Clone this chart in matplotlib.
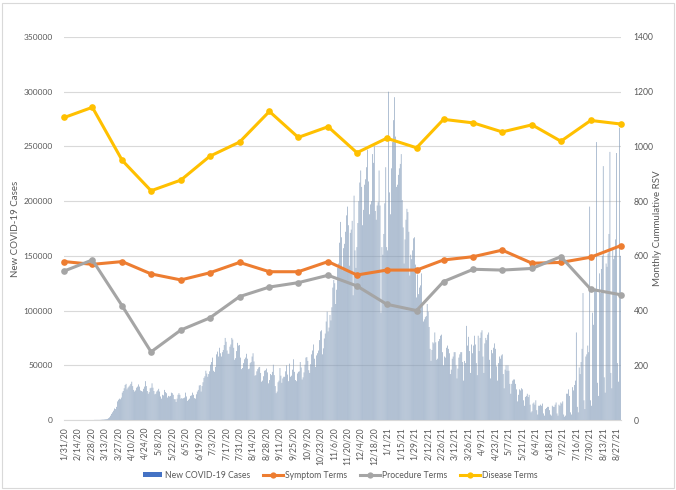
import numpy as np
import pandas as pd
import matplotlib
matplotlib.use("Agg")
import matplotlib.pyplot as plt
from matplotlib.lines import Line2D
from matplotlib.patches import Patch, Rectangle

plt.rcParams['font.family'] = ['Lato', 'DejaVu Sans']

# ---------------- data ----------------
start_date = "2020-01-31"

# daily new COVID-19 cases (thousands), one row per week (Fri..Thu), 2020
cases_2020_k = [
    0, 0, 0, 0, 0, 0, 0,
    0, 0, 0, 0, 0, 0, 0,
    0, 0, 0, 0, 0, 0, 0,
    0, 0, 0, 0, 0, 0, 0,
    0, 0, 0, 0.1, 0.1, 0.1, 0.1,
    0.1, 0.1, 0.1, 0.2, 0.3, 0.4, 0.4,
    0.6, 0.7, 0.8, 1.0, 1.7, 2.5, 3.9,
    5.6, 7.0, 8.5, 10.5, 10.0, 12.0, 17.0,
    18.5, 19.5, 19.0, 20.5, 25.0, 26.5, 29.0,
    32.0, 33.0, 28.0, 29.5, 30.5, 31.5, 33.0,
    35.0, 31.0, 27.5, 26.0, 27.0, 29.5, 30.5,
    32.5, 30.5, 27.0, 26.5, 26.0, 28.5, 30.5,
    35.5, 31.0, 26.5, 24.0, 25.5, 29.0, 29.5,
    33.5, 29.5, 26.5, 23.5, 24.0, 26.0, 27.0,
    28.5, 26.0, 21.5, 19.5, 23.0, 22.5, 27.5,
    25.5, 24.5, 20.5, 22.0, 21.5, 22.0, 25.0,
    24.5, 23.0, 19.0, 19.0, 16.5, 19.5, 23.0,
    24.5, 23.0, 19.5, 20.0, 19.5, 20.0, 20.5,
    25.0, 21.5, 17.5, 18.5, 19.5, 22.0, 22.5,
    25.0, 23.0, 20.0, 19.5, 23.5, 26.0, 27.5,
    31.5, 32.0, 26.0, 31.0, 34.5, 38.5, 40.0,
    45.0, 42.5, 39.5, 42.0, 44.5, 50.5, 53.0,
    57.0, 45.0, 44.0, 48.5, 60.0, 62.5, 58.0,
    66.0, 61.0, 58.0, 62.0, 64.0, 68.5, 75.0,
    71.5, 63.5, 60.5, 60.5, 67.0, 69.0, 75.0,
    73.5, 66.0, 55.0, 56.5, 63.0, 70.5, 68.0,
    68.5, 57.0, 46.5, 47.5, 52.0, 55.5, 57.0,
    60.5, 56.0, 46.5, 47.0, 52.0, 53.0, 58.0,
    61.0, 53.5, 40.5, 41.0, 44.5, 46.5, 48.0,
    48.5, 43.0, 35.0, 36.0, 40.0, 45.0, 45.5,
    47.0, 43.5, 33.5, 36.5, 42.0, 41.0, 44.0,
    50.5, 41.0, 31.0, 24.5, 26.0, 34.5, 36.0,
    47.5, 40.5, 34.0, 38.0, 39.5, 39.5, 44.5,
    50.0, 41.5, 35.5, 51.5, 39.5, 40.5, 46.0,
    55.5, 44.0, 36.5, 35.5, 42.5, 44.0, 44.5,
    53.0, 48.0, 37.0, 39.0, 43.5, 50.5, 57.0,
    57.5, 54.0, 45.5, 43.0, 51.0, 60.0, 63.5,
    69.0, 56.0, 48.5, 59.0, 61.0, 63.5, 73.0,
    81.0, 82.0, 60.0, 65.5, 74.5, 79.0, 90.0,
    99.0, 81.0, 84.5, 96.0, 91.0, 103.0, 121.0,
    128.0, 125.0, 106.0, 119.0, 139.0, 143.0, 162.0,
    181.0, 167.0, 137.0, 157.0, 161.0, 172.0, 187.0,
    195.0, 178.0, 141.0, 171.0, 174.0, 182.0, 114.0,
    205.0, 155.0, 139.0, 158.0, 180.0, 200.0, 217.0,
    228.0, 213.0, 178.0, 192.0, 215.0, 220.0, 231.0,
    247.0, 218.0, 188.0, 197.0, 200.0, 243.0, 235.0,
    250.0, 191.0, 183.0, 196.0, 199.0, 228.0, 196.0,
    98.0, 158.0, 151.0, 170.0, 198.0, 231.0, 158.0,
]

# daily new COVID-19 cases (thousands), 2021 (Jan 1 .. Aug 31)
cases_2021_k = [
    155.0, 300.0, 208.0, 188.0, 230.0, 254.0, 274.0,
    295.0, 259.0, 213.0, 215.0, 224.0, 230.0, 234.0,
    243.0, 201.0, 176.0, 143.0, 165.0, 183.0, 193.0,
    190.0, 172.0, 132.0, 151.0, 147.0, 155.0, 166.0,
    167.0, 142.0, 112.0, 133.0, 115.0, 121.0, 123.0,
    134.0, 104.0, 90.0, 92.0, 94.0, 95.0, 106.0,
    99.0, 85.0, 65.0, 54.0, 64.0, 71.0, 70.0,
    80.0, 71.0, 55.0, 56.0, 72.0, 74.0, 77.0,
    78.0, 62.0, 50.0, 58.0, 57.0, 66.0, 68.0,
    65.0, 61.0, 42.0, 46.0, 56.0, 58.0, 62.0,
    62.0, 50.0, 38.0, 47.0, 57.0, 60.0, 62.0,
    62.0, 53.0, 36.0, 54.0, 52.0, 86.0, 68.0,
    76.0, 63.0, 43.0, 69.0, 61.0, 68.0, 77.0,
    69.0, 52.0, 41.0, 77.0, 63.0, 75.0, 80.0,
    82.0, 58.0, 43.0, 70.0, 75.0, 73.0, 78.0,
    80.0, 55.0, 38.0, 64.0, 61.0, 66.0, 70.0,
    65.0, 49.0, 36.0, 52.0, 58.0, 56.0, 59.0,
    60.0, 42.0, 29.0, 46.0, 50.0, 45.0, 50.0,
    45.0, 33.0, 24.0, 33.0, 36.0, 37.0, 37.0,
    33.0, 28.0, 17.0, 23.0, 28.0, 27.0, 29.0,
    28.0, 18.0, 13.0, 21.0, 22.0, 24.0, 21.0,
    23.0, 14.0, 7.0, 8.0, 15.0, 16.0, 14.0,
    18.0, 9.0, 5.0, 13.0, 13.0, 14.0, 13.0,
    15.0, 6.0, 4.0, 10.0, 11.0, 12.0, 12.0,
    9.0, 5.0, 4.0, 13.0, 12.0, 12.0, 14.0,
    16.0, 6.0, 4.0, 14.0, 13.0, 16.0, 15.0,
    17.0, 5.0, 3.0, 4.0, 24.0, 24.0, 28.0,
    22.0, 7.0, 5.0, 30.0, 27.0, 32.0, 36.0,
    80.0, 12.0, 7.0, 48.0, 42.0, 53.0, 65.0,
    116.0, 18.0, 10.0, 58.0, 60.0, 68.0, 62.0,
    195.0, 18.0, 13.0, 98.0, 87.0, 118.0, 120.0,
    254.0, 34.0, 22.0, 134.0, 116.0, 138.0, 150.0,
    232.0, 39.0, 25.0, 143.0, 140.0, 152.0, 170.0,
    245.0, 43.0, 29.0, 157.0, 147.0, 150.0, 165.0,
    244.0, 52.0, 35.0, 267.0, 150.0,
]

# monthly cumulative RSV (one value per month end, Jan 2020 .. Aug 2021)
symptom_terms = [579, 569, 579, 534, 512, 538, 576, 542, 542, 579,
                 530, 548, 548, 585, 597, 621, 573, 576, 595, 637]
procedure_terms = [545, 585, 417, 249, 329, 373, 451, 486, 502, 529,
                   490, 423, 400, 506, 551, 548, 554, 597, 478, 458]
disease_terms = [1106, 1143, 949, 838, 877, 964, 1016, 1128, 1033, 1072,
                 977, 1030, 995, 1099, 1086, 1053, 1079, 1019, 1095, 1082]

series_names = ["New COVID-19 Cases", "Symptom Terms", "Procedure Terms", "Disease Terms"]

# ---------------- derived ----------------
cases = np.array(cases_2020_k + cases_2021_k) * 1000.0
start = pd.Timestamp(start_date)
days = np.arange(len(cases))
dates = start + pd.to_timedelta(days, unit="D")
month_ends = pd.date_range(start, dates[-1], freq="ME")
month_days = (month_ends - start).days.values

W, H = 676, 490
fig = plt.figure(figsize=(W / 100, H / 100), dpi=100)
fig.patch.set_facecolor("white")
fig.add_artist(Rectangle((2 / W, 2 / H), 672 / W, 485 / H, transform=fig.transFigure,
                         fill=False, edgecolor="#d9d9d9", lw=0.8))

ax = fig.add_axes([64 / W, 70 / H, 557 / W, 383 / H])
ax.bar(days, cases, width=0.62, color="#7f98b7", linewidth=0, zorder=2, snap=False)
ax.set_xlim(-0.5, len(cases) - 0.5)
ax.set_ylim(0, 350000)
ax.set_yticks(np.arange(0, 350001, 50000))
ax.set_yticklabels([str(v) for v in range(0, 350001, 50000)])
ax.grid(axis="y", color="#d9d9d9", lw=0.8, zorder=0)
ax.set_axisbelow(True)
for s in ["top", "left", "right"]:
    ax.spines[s].set_visible(False)
ax.spines["bottom"].set_color("#d9d9d9")
ax.spines["bottom"].set_linewidth(0.8)

tick_days = days[::14]
tick_labels = [f"{d.month}/{d.day}/{d.strftime('%y')}" for d in dates[::14]]
ax.set_xticks(tick_days)
ax.set_xticklabels(tick_labels, rotation=90)
ax.tick_params(axis="x", length=0, labelsize=6.2, colors="#595959", pad=5)
ax.tick_params(axis="y", length=0, labelsize=6.0, colors="#595959", pad=8)

ax2 = ax.twinx()
ax2.set_ylim(0, 1400)
ax2.set_yticks(np.arange(0, 1401, 200))
for s in ["top", "left", "right", "bottom"]:
    ax2.spines[s].set_visible(False)
ax2.tick_params(axis="y", length=0, labelsize=6.2, colors="#595959", pad=9)

line_colors = ["#ED7D31", "#A5A5A5", "#FFC000"]
for vals, col in zip([symptom_terms, procedure_terms, disease_terms], line_colors):
    ax2.plot(month_days, vals, color=col, lw=2.2, marker="o", ms=4.8,
             markeredgewidth=0, solid_capstyle="round", zorder=5, clip_on=False)

fig.text(16 / W, 1 - 228.5 / H, "New COVID-19 Cases", rotation=90, ha="center",
         va="center", fontsize=7, color="#595959")
fig.text(658 / W, 1 - 228.5 / H, "Monthly Cummulative RSV", rotation=90, ha="center",
         va="center", fontsize=7, color="#595959")

handles = [Patch(facecolor="#4472C4", edgecolor="none")]
for col in line_colors:
    handles.append(Line2D([0], [0], color=col, lw=2.2, marker="o", ms=4.5, markeredgewidth=0))
fig.legend(handles, series_names, loc="center", bbox_to_anchor=(0.503, 1 - 475 / H),
           ncol=4, frameon=False, fontsize=6.2, handlelength=2.3, handleheight=0.5,
           columnspacing=1.5, handletextpad=0.25, labelcolor="#595959")

fig.savefig("out.png", dpi=100, facecolor="white")
